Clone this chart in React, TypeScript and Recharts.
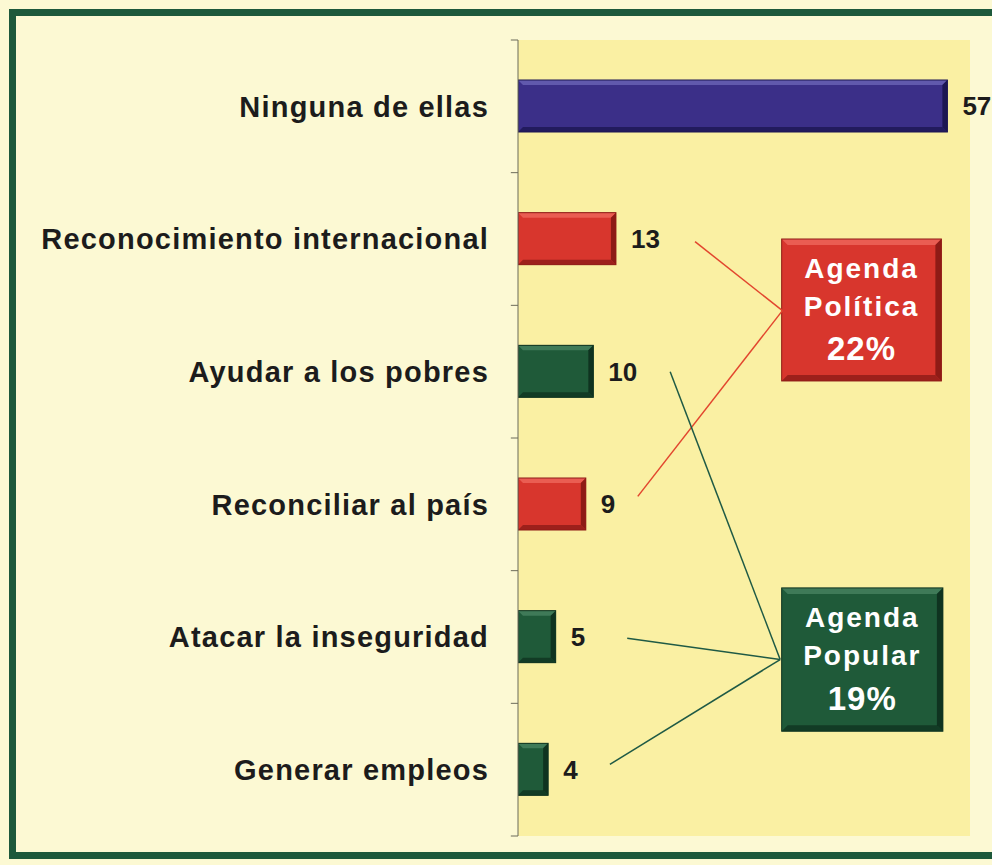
import React from "react";
import {
  BarChart,
  Bar,
  XAxis,
  YAxis,
  CartesianGrid,
  LabelList,
  ReferenceArea,
  ReferenceLine,
} from "recharts";

// datos de la encuesta
const categories = [
  "Ninguna de ellas",
  "Reconocimiento internacional",
  "Ayudar a los pobres",
  "Reconciliar al país",
  "Atacar la inseguridad",
  "Generar empleos",
];
const values = [57, 13, 10, 9, 5, 4];
const groups = ["ninguna", "politica", "popular", "politica", "popular", "popular"];

const politicaLines = ["Agenda", "Política", "22%"];
const popularLines = ["Agenda", "Popular", "19%"];

// colores (base, claro, oscuro)
const palette: Record<string, { base: string; light: string; dark: string }> = {
  ninguna: { base: "#3b2f88", light: "#6159ad", dark: "#1d1752" },
  politica: { base: "#d8362d", light: "#ea5d52", dark: "#8e1b16" },
  popular: { base: "#1f5a39", light: "#3f7a58", dark: "#0f3320" },
};

const font = "Arial, 'Liberation Sans', sans-serif";

const data = categories.map((name, i) => ({
  name,
  value: values[i],
  group: groups[i],
}));

// posiciones de las cajas y conectores, en unidades de los ejes
const politicaBox = { x1: 35, x2: 56.2, y1: 1.5, y2: 2.57 };
const popularBox = { x1: 35, x2: 56.4, y1: 4.13, y2: 5.21 };
const politicaLinks = [
  [{ x: 23.5, y: 1.52 }, { x: 35.1, y: 2.04 }],
  [{ x: 15.9, y: 3.44 }, { x: 35.1, y: 2.04 }],
];
const popularLinks = [
  [{ x: 20.2, y: 2.5 }, { x: 34.8, y: 4.67 }],
  [{ x: 14.5, y: 4.51 }, { x: 34.8, y: 4.67 }],
  [{ x: 12.2, y: 5.46 }, { x: 34.8, y: 4.67 }],
];
const boundaries = [0, 1, 2, 3, 4, 5, 6];

const Bevel = ({ x, y, width, height, colors, b = 5 }: any) => {
  const w = width;
  const h = height;
  const e = Math.min(b, w / 3, h / 3);
  return (
    <g>
      <rect x={x} y={y} width={w} height={h} fill={colors.base} />
      <polygon
        points={`${x},${y} ${x + w},${y} ${x + w - e},${y + e} ${x + e},${y + e}`}
        fill={colors.light}
      />
      <polygon
        points={`${x + w},${y} ${x + w},${y + h} ${x + w - e},${y + h - e} ${x + w - e},${y + e}`}
        fill={colors.dark}
      />
      <polygon
        points={`${x},${y + h} ${x + w},${y + h} ${x + w - e},${y + h - e} ${x + e},${y + h - e}`}
        fill={colors.dark}
        opacity={0.8}
      />
      <rect x={x} y={y} width={w} height={h} fill="none" stroke={colors.dark} strokeWidth={1} />
    </g>
  );
};

const BarShape = (props: any) => {
  const { x, y, width, height, payload } = props;
  return <Bevel x={x} y={y} width={width} height={height} colors={palette[payload.group]} />;
};

const AgendaBox = ({ x, y, width, height, lines, colors }: any) => {
  const cx = x + width / 2;
  const offs = [0.275, 0.54, 0.855];
  return (
    <g>
      <Bevel x={x} y={y} width={width} height={height} colors={colors} b={6} />
      {lines.map((t: string, i: number) => (
        <text
          key={i}
          x={cx}
          y={y + height * offs[i]}
          textAnchor="middle"
          fill="#ffffff"
          fontFamily={font}
          fontWeight="bold"
          fontSize={i === 2 ? 33 : 28}
          letterSpacing={i === 2 ? 1 : 2}
        >
          {t}
        </text>
      ))}
    </g>
  );
};

export default function App() {
  return (
    <div
      style={{
        position: "absolute",
        left: 0,
        top: 0,
        width: 992,
        height: 865,
        overflow: "hidden",
        background: "#fcf9d3",
      }}
    >
      <div
        style={{
          position: "absolute",
          left: 9,
          top: 9,
          width: 1000,
          height: 850,
          boxSizing: "border-box",
          border: "7px solid #1d593b",
        }}
      />
      <div style={{ position: "absolute", left: 0, top: 0 }}>
        <BarChart
          width={992}
          height={865}
          data={data}
          layout="vertical"
          margin={{ top: 40, right: 22, bottom: 29, left: 18 }}
          barCategoryGap={0}
        >
          <CartesianGrid fill="#faf0a3" horizontal={false} vertical={false} />
          <XAxis type="number" domain={[0, 60]} hide allowDataOverflow />
          <YAxis
            type="category"
            dataKey="name"
            width={500}
            axisLine={{ stroke: "#6b6b5a" }}
            tickLine={false}
            tickMargin={23}
            tick={{
              fill: "#1c1c1c",
              fontSize: 29,
              fontWeight: "bold",
              fontFamily: font,
              letterSpacing: 1.2,
            }}
          />
          <YAxis
            yAxisId="num"
            type="number"
            dataKey="value"
            domain={[0, 6]}
            hide
            allowDataOverflow
          />
          {boundaries.map((b) => (
            <ReferenceLine
              key={`t-${b}`}
              yAxisId="num"
              segment={[
                { x: -0.95, y: b },
                { x: 0, y: b },
              ]}
              stroke="#6b6b5a"
              ifOverflow="visible"
            />
          ))}
          <Bar dataKey="value" barSize={52} isAnimationActive={false} shape={BarShape}>
            <LabelList
              dataKey="value"
              position="right"
              offset={15}
              fill="#1c1c1c"
              fontSize={26}
              fontWeight="bold"
              fontFamily={font}
            />
          </Bar>
          {politicaLinks.map((s, i) => (
            <ReferenceLine
              key={`pl-${i}`}
              yAxisId="num"
              segment={s}
              stroke="#e2462e"
              strokeWidth={1.5}
              ifOverflow="visible"
            />
          ))}
          {popularLinks.map((s, i) => (
            <ReferenceLine
              key={`pp-${i}`}
              yAxisId="num"
              segment={s}
              stroke="#1f5a45"
              strokeWidth={1.5}
              ifOverflow="visible"
            />
          ))}
          <ReferenceArea
            yAxisId="num"
            {...politicaBox}
            ifOverflow="visible"
            shape={(p: any) => (
              <AgendaBox {...p} lines={politicaLines} colors={palette.politica} />
            )}
          />
          <ReferenceArea
            yAxisId="num"
            {...popularBox}
            ifOverflow="visible"
            shape={(p: any) => (
              <AgendaBox {...p} lines={popularLines} colors={palette.popular} />
            )}
          />
        </BarChart>
      </div>
    </div>
  );
}
